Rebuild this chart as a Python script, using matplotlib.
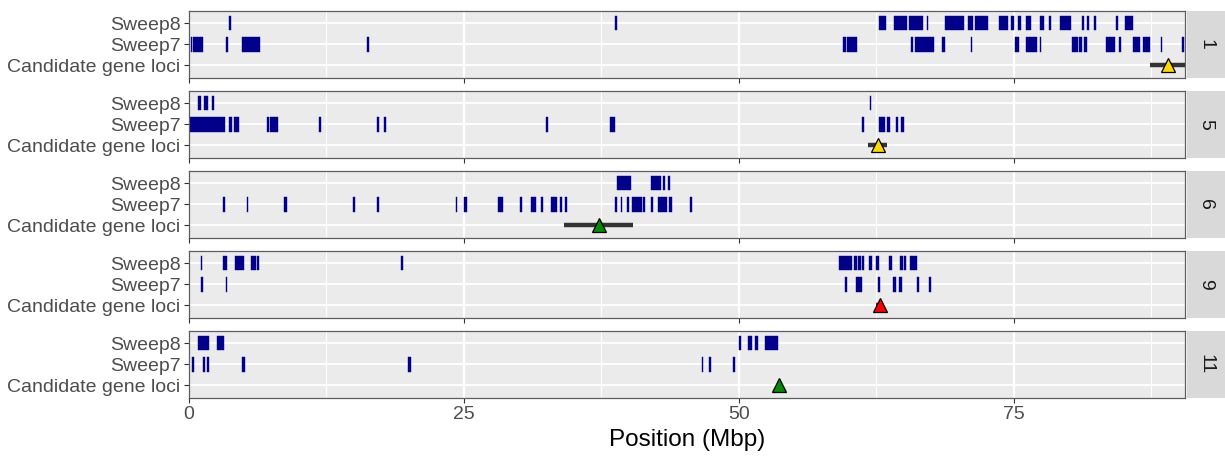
import matplotlib.pyplot as plt

plt.rcParams['font.family'] = ['Liberation Sans', 'DejaVu Sans']

# chromosomes shown, one facet each
chroms = ["1", "5", "6", "9", "11"]
rows = ["Candidate gene loci", "Sweep7", "Sweep8"]

# sweep intervals (start, end) in Mbp
sweep8 = {
    "1": [(3.66, 3.85), (38.76, 38.9), (62.75, 63.36), (64.1, 65.3), (65.5, 66.7),
          (67.06, 67.2), (68.75, 70.5), (70.8, 71.3), (71.5, 71.7), (71.75, 72.66),
          (73.6, 74.5), (74.7, 75.0), (75.4, 75.6), (76.1, 76.55), (77.4, 77.7),
          (78.2, 78.4), (79.2, 80.2), (81.15, 81.36), (81.6, 81.8), (82.3, 82.5),
          (84.3, 84.5), (85.1, 85.8)],
    "5": [(0.85, 1.1), (1.4, 1.75), (2.06, 2.3), (61.9, 62.0)],
    "6": [(38.9, 40.15), (41.97, 42.9), (43.1, 43.3), (43.57, 43.75)],
    "9": [(1.06, 1.2), (3.1, 3.5), (4.2, 5.0), (5.64, 6.1), (6.15, 6.36), (19.27, 19.45),
          (59.1, 60.3), (60.5, 60.7), (60.85, 61.06), (61.2, 61.4), (61.85, 62.1),
          (62.45, 62.7), (63.66, 63.9), (64.66, 64.88), (65.0, 65.2), (65.55, 66.15)],
    "11": [(0.82, 1.86), (2.58, 3.19), (49.96, 50.2), (50.86, 51.2), (51.5, 51.75),
           (52.4, 53.55)],
}

sweep7 = {
    "1": [(0.15, 0.3), (0.4, 1.3), (3.36, 3.55), (4.85, 6.45), (16.2, 16.35),
          (59.5, 59.7), (59.85, 60.75), (65.6, 65.85), (66.0, 67.7), (68.45, 68.75),
          (71.06, 71.2), (75.1, 75.5), (76.1, 77.06), (77.36, 77.5), (80.25, 80.8),
          (80.9, 81.2), (81.4, 81.6), (83.4, 84.2), (84.55, 84.7), (85.85, 86.45),
          (86.75, 87.36), (88.36, 88.5), (90.3, 90.45)],
    "5": [(0.03, 3.27), (3.6, 3.9), (4.06, 4.57), (7.1, 7.27), (7.4, 8.06),
          (11.85, 12.0), (17.1, 17.25), (17.7, 17.9), (32.5, 32.67), (38.3, 38.7),
          (61.2, 61.36), (62.75, 63.3), (63.5, 63.75), (64.3, 64.5), (64.75, 64.97)],
    "6": [(3.1, 3.27), (5.25, 5.4), (8.67, 8.88), (14.9, 15.06), (17.1, 17.25),
          (24.25, 24.4), (24.97, 25.24), (28.1, 28.55), (30.1, 30.3), (31.06, 31.55),
          (32.0, 32.2), (32.9, 33.5), (33.7, 33.9), (34.2, 34.4), (38.73, 38.9),
          (39.27, 39.4), (39.8, 39.97), (40.3, 41.2), (41.3, 41.45), (42.0, 42.2),
          (42.6, 43.5), (43.6, 43.9), (45.55, 45.75)],
    "9": [(1.1, 1.24), (3.36, 3.5), (59.6, 59.8), (60.6, 61.2), (62.6, 62.8),
          (64.0, 64.3), (64.55, 64.8), (66.2, 66.4), (67.3, 67.5)],
    "11": [(0.28, 0.46), (1.3, 1.47), (1.65, 1.86), (4.8, 5.06), (19.95, 20.16),
           (46.6, 46.76), (47.3, 47.5), (49.45, 49.6)],
}

# candidate gene loci: peak position and support interval
cand_pos = {"1": 89.0, "5": 62.6, "6": 37.3, "9": 62.8, "11": 53.6}
cand_lo = {"1": 87.4, "5": 61.76, "6": 34.1, "9": 62.5, "11": 53.45}
cand_hi = {"1": 90.6, "5": 63.5, "6": 40.4, "9": 63.1, "11": 53.75}
cand_col = {"1": "#FFD700", "5": "#FFD700", "6": "#008B00", "9": "#FF0000", "11": "#008B00"}

xticks = [0, 25, 50, 75]
xminor = [12.5, 37.5, 62.5, 87.5]

W, H = 1225, 459
fig = plt.figure(figsize=(W / 100, H / 100), dpi=100)

left, right = 189, 1185
tops = [10.7, 90.7, 170.7, 250.7, 330.7]
ph = 67.3
strip_w = 38

txt_col = "#4D4D4D"
fs = 14

for i, ch in enumerate(chroms):
    y0 = 1 - (tops[i] + ph) / H
    ax = fig.add_axes([left / W, y0, (right - left) / W, ph / H])
    ax.set_facecolor("#EBEBEB")
    ax.set_xlim(0, 90.55)
    ax.set_ylim(0.4, 3.6)

    for x in xminor:
        ax.axvline(x, color="white", lw=0.75, zorder=0)
    for x in xticks:
        ax.axvline(x, color="white", lw=1.6, zorder=0)
    for y in (1, 2, 3):
        ax.axhline(y, color="white", lw=1.3, zorder=0)

    for row_y, data in ((3, sweep8[ch]), (2, sweep7[ch])):
        starts = [s for s, e in data]
        widths = [e - s for s, e in data]
        ax.barh([row_y] * len(data), widths, left=starts, height=0.68,
                color="#00008B", edgecolor="#00008B", lw=0.3, zorder=2)

    ax.plot([cand_lo[ch], cand_hi[ch]], [1, 1], color="#333333", lw=3.2,
            solid_capstyle="butt", zorder=3)
    ax.plot([cand_pos[ch]], [1], marker="^", ms=10.5, mfc=cand_col[ch],
            mec="black", mew=0.9, zorder=4, clip_on=False)

    ax.set_yticks([1, 2, 3])
    ax.set_yticklabels(rows, fontsize=fs, color=txt_col)
    ax.set_xticks(xticks)
    if i == len(chroms) - 1:
        ax.set_xticklabels([str(t) for t in xticks], fontsize=fs, color=txt_col)
        ax.set_xlabel("Position (Mbp)", fontsize=17.5, color="black", labelpad=4)
    else:
        ax.tick_params(axis="x", length=0, labelbottom=False)
    ax.tick_params(axis="both", color="#333333", width=0.8, length=3.5, pad=2.5)
    for sp in ax.spines.values():
        sp.set_color("#5E5E5E")
        sp.set_linewidth(0.9)

    # facet strip on the right
    sax = fig.add_axes([(right + 2) / W, y0, strip_w / W, ph / H])
    sax.set_facecolor("#D9D9D9")
    sax.set_xticks([])
    sax.set_yticks([])
    for sp in sax.spines.values():
        sp.set_visible(False)
    sax.text(0.5, 0.5, ch, rotation=-90, ha="center", va="center",
             fontsize=fs, color="#1A1A1A", transform=sax.transAxes)

fig.savefig("out.png", dpi=100)
